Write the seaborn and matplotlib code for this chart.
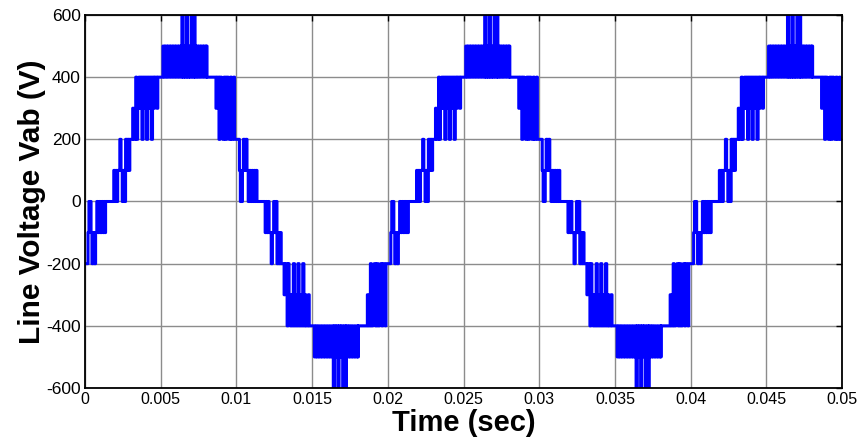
import numpy as np
import pandas as pd
import matplotlib
matplotlib.use("Agg")
import matplotlib.pyplot as plt
import seaborn as sns

# ---- data ----
# switching instants (ms, measured from the start of a positive half-cycle)
half_switch_ms = [0.00, 0.06, 0.12, 0.20, 0.26, 0.40, 0.48, 0.56, 0.62, 0.70,
                  0.78, 0.86, 0.92, 1.00, 1.06, 1.25, 1.31, 1.45, 1.52, 1.58,
                  1.66, 1.72, 1.80, 1.86, 1.94, 2.02, 2.10, 2.16, 2.24, 2.32,
                  2.40, 2.48, 2.56, 2.64, 2.70, 2.85, 2.91, 3.25, 3.35, 3.41,
                  3.52, 3.58, 3.70, 3.76, 3.88, 3.94, 4.06, 4.12, 4.24, 4.30,
                  4.42, 4.50, 4.58, 4.64, 4.72, 4.80, 4.88, 4.96, 5.04, 5.12,
                  5.22, 5.30, 5.37, 5.45, 5.55, 5.61, 5.72, 5.78, 5.90, 5.96,
                  6.08, 6.12, 6.16, 6.75, 6.82, 6.95, 7.02, 7.12, 7.20, 7.28,
                  7.38, 7.46, 7.56, 7.62, 7.70, 7.78, 7.86, 7.92, 7.98, 8.30,
                  8.36, 8.50, 8.56, 8.64, 8.72, 8.80, 8.88, 8.96, 9.04, 9.12,
                  9.20, 9.28, 9.34, 9.40, 9.46]
# level (V) after each switching instant
half_level_v = [100, 0, 100, 0, 100, 200, 100, 0, 100, 0,
                200, 100, 200, 100, 200, 300, 200, 400, 200, 300,
                400, 300, 400, 200, 400, 300, 400, 200, 400, 300,
                400, 200, 400, 300, 400, 300, 400, 500, 400, 500,
                400, 500, 400, 500, 400, 500, 400, 500, 400, 500,
                400, 600, 400, 500, 400, 600, 400, 500, 400, 600,
                400, 600, 400, 500, 400, 500, 400, 500, 400, 500,
                400, 500, 400, 300, 400, 200, 400, 300, 200, 400,
                200, 400, 300, 200, 400, 200, 300, 400, 200, 100,
                0, 100, 200, 100, 200, 100, 0, 100, 0, 100,
                0, 100, 0, 100, 0]
first_positive_ms = 1.9      # start of the first positive half-cycle
half_period_ms = 10.0
half_cycles = [-1, 0, 1, 2, 3, 4]   # half-cycle index (even = positive)

x_ticks = [0, 0.005, 0.01, 0.015, 0.02, 0.025, 0.03, 0.035, 0.04, 0.045, 0.05]
x_tick_labels = ["0", "0.005", "0.01", "0.015", "0.02", "0.025", "0.03",
                 "0.035", "0.04", "0.045", "0.05"]
y_ticks = [-600, -400, -200, 0, 200, 400, 600]

rows = []
for k in half_cycles:
    sign = 1 if k % 2 == 0 else -1
    for u, v in zip(half_switch_ms, half_level_v):
        rows.append(((first_positive_ms + half_period_ms * k + u) / 1000.0, sign * v))
df = pd.DataFrame(rows, columns=["t", "v"])

# ---- figure ----
sns.set_style("white")
plt.rcParams["font.family"] = ["Liberation Sans", "DejaVu Sans"]
plt.rcParams["axes.unicode_minus"] = False

fig = plt.figure(figsize=(8.63, 4.45), dpi=100)
ax = fig.add_axes([85 / 863, 1 - 388 / 445, (842 - 85) / 863, (388 - 15) / 445])

sns.lineplot(data=df, x="t", y="v", ax=ax, color="#0000ff", linewidth=2.2,
             drawstyle="steps-post", estimator=None, sort=False)

ax.set_xlim(0, 0.05)
ax.set_ylim(-600, 600)
ax.set_xticks(x_ticks)
ax.set_xticklabels(x_tick_labels, fontsize=11.5)
ax.set_yticks(y_ticks)
ax.grid(True, color="#8c8c8c", linewidth=1.0)
ax.set_axisbelow(True)
ax.tick_params(direction="in", top=True, right=True, length=4, width=1,
               color="black", labelcolor="black", pad=3)
ax.tick_params(axis="y", labelsize=12.5)
for s in ax.spines.values():
    s.set_color("black")
    s.set_linewidth(1.3)

ax.set_xlabel("Time (sec)", fontsize=21, fontweight="bold", labelpad=1, color="black")
ax.set_ylabel("Line Voltage Vab (V)", fontsize=21.5, fontweight="bold", labelpad=0,
              color="black")

fig.savefig("out.png", dpi=100)
